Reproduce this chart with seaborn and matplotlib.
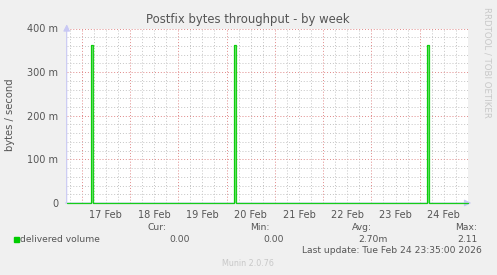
import numpy as np
import pandas as pd
import matplotlib
matplotlib.use("Agg")
import matplotlib.pyplot as plt
import seaborn as sns
from matplotlib.patches import Rectangle

# ---- data (days of February, values in milli-bytes/second) ----
times = [16.69, 17.185, 17.185, 17.225, 17.225, 20.15, 20.15, 20.195, 20.195,
         24.15, 24.15, 24.195, 24.195, 25.0]
values = [0, 0, 362, 362, 0, 0, 362, 362, 0, 0, 362, 362, 0, 0]
day_labels = ["17 Feb", "18 Feb", "19 Feb", "20 Feb", "21 Feb", "22 Feb", "23 Feb", "24 Feb"]
day_starts = [17, 18, 19, 20, 21, 22, 23, 24]
y_ticks = [0, 100, 200, 300, 400]
y_labels = ["0", "100 m", "200 m", "300 m", "400 m"]
series_name = "delivered volume"
stat_heads = ["Cur:", "Min:", "Avg:", "Max:"]
stat_vals = ["0.00", "0.00", "2.70m", "2.11"]

sns.set_style("white")
plt.rcParams['font.family'] = ['DejaVu Sans']
TXT = "#555555"

W, H = 497, 275
fig = plt.figure(figsize=(W / 100, H / 100), dpi=100, facecolor="#f0f0f0")
L, R, T, B = 66.7, 468.0, 28.5, 203.0
ax = fig.add_axes([L / W, 1 - B / H, (R - L) / W, (B - T) / H])
ax.set_facecolor("white")

df = pd.DataFrame({"t": times, "v": values})
ax.fill_between(df["t"], df["v"], color="#80e080", lw=0, zorder=3)
sns.lineplot(data=df, x="t", y="v", sort=False, estimator=None, color="#00cc00",
             lw=0.9, ax=ax, zorder=5)
for ln in ax.lines:
    ln.set_clip_on(False)
    ln.set_alpha(0.9)

ax.set_xlim(16.69, 25.0)
ax.set_ylim(0, 400)

# grid
ax.set_xticks(day_starts)
ax.set_xticklabels([""] * len(day_starts))
minor_x = [d + q for d in [16] + day_starts for q in (0.25, 0.5, 0.75)]
minor_x = [m for m in minor_x if 16.69 < m < 25]
ax.set_xticks(minor_x, minor=True)
ax.set_xticklabels([day_labels[day_starts.index(int(m))] if (m % 1 == 0.5 and int(m) in day_starts) else ""
                    for m in minor_x], minor=True)
ax.set_yticks(y_ticks)
ax.set_yticklabels(y_labels)
ax.set_yticks([y for y in range(0, 401, 20) if y % 100 != 0], minor=True)

ax.grid(True, which="major", color="#e08888", lw=0.7, ls=(0, (1, 2)), zorder=1)
ax.grid(True, which="minor", color="#c4c4c4", lw=0.7, ls=(0, (1, 2)), zorder=0)
ax.tick_params(axis="both", which="both", labelsize=7.0, labelcolor=TXT)
ax.tick_params(axis="x", which="major", length=2, color="#e08888")
ax.tick_params(axis="x", which="minor", length=2, color="#c4c4c4", pad=3)
ax.tick_params(axis="y", which="major", length=3, color="#e08888", pad=3)
ax.tick_params(axis="y", which="minor", length=2, color="#c4c4c4")
for s in ax.spines.values():
    s.set_visible(False)
ax.set_xlabel("")
ax.set_ylabel("")

# axes arrows
ax.annotate("", xy=(0, 1.04), xytext=(0, -0.015), xycoords="axes fraction",
            arrowprops=dict(arrowstyle="-|>,head_length=0.4,head_width=0.2", color="#c8c8f4", lw=0.8),
            annotation_clip=False, zorder=2)
ax.annotate("", xy=(1.015, 0), xytext=(-0.01, 0), xycoords="axes fraction",
            arrowprops=dict(arrowstyle="-|>,head_length=0.4,head_width=0.2", color="#c8c8f4", lw=0.8),
            annotation_clip=False, zorder=2)


def ft(x, y, s, **kw):
    kw.setdefault("color", TXT)
    kw.setdefault("fontsize", 6.6)
    fig.text(x / W, 1 - y / H, s, **kw)


ft(248, 20, "Postfix bytes throughput - by week", fontsize=8.4, ha="center", va="center")
ft(10, 115, "bytes / second", rotation=90, ha="center", va="center", fontsize=7.2)
ft(487, 7, "RRDTOOL / TOBI OETIKER", rotation=270, ha="center", va="top", color="#c8c8c8", fontsize=6.2)

fig.patches.append(Rectangle((14 / W, 1 - 242 / H), 5 / W, 5 / H, transform=fig.transFigure,
                             color="#00cc00", figure=fig))
ft(20.5, 239.5, series_name, ha="left", va="center")
head_x = [157, 260, 362, 477]
head_ha = ["center", "center", "center", "right"]
for hx, ha, h in zip(head_x, head_ha, stat_heads):
    ft(hx, 227.5, h, ha=ha, va="center")
val_x = [190, 284, 388, 478]
for vx, v in zip(val_x, stat_vals):
    ft(vx, 239.5, v, ha="right", va="center")
ft(482, 250.5, "Last update: Tue Feb 24 23:35:00 2026", ha="right", va="center")
ft(248, 263, "Munin 2.0.76", ha="center", va="center", color="#c8c8c8", fontsize=5.8)

fig.savefig("out.png", dpi=100, facecolor=fig.get_facecolor())
